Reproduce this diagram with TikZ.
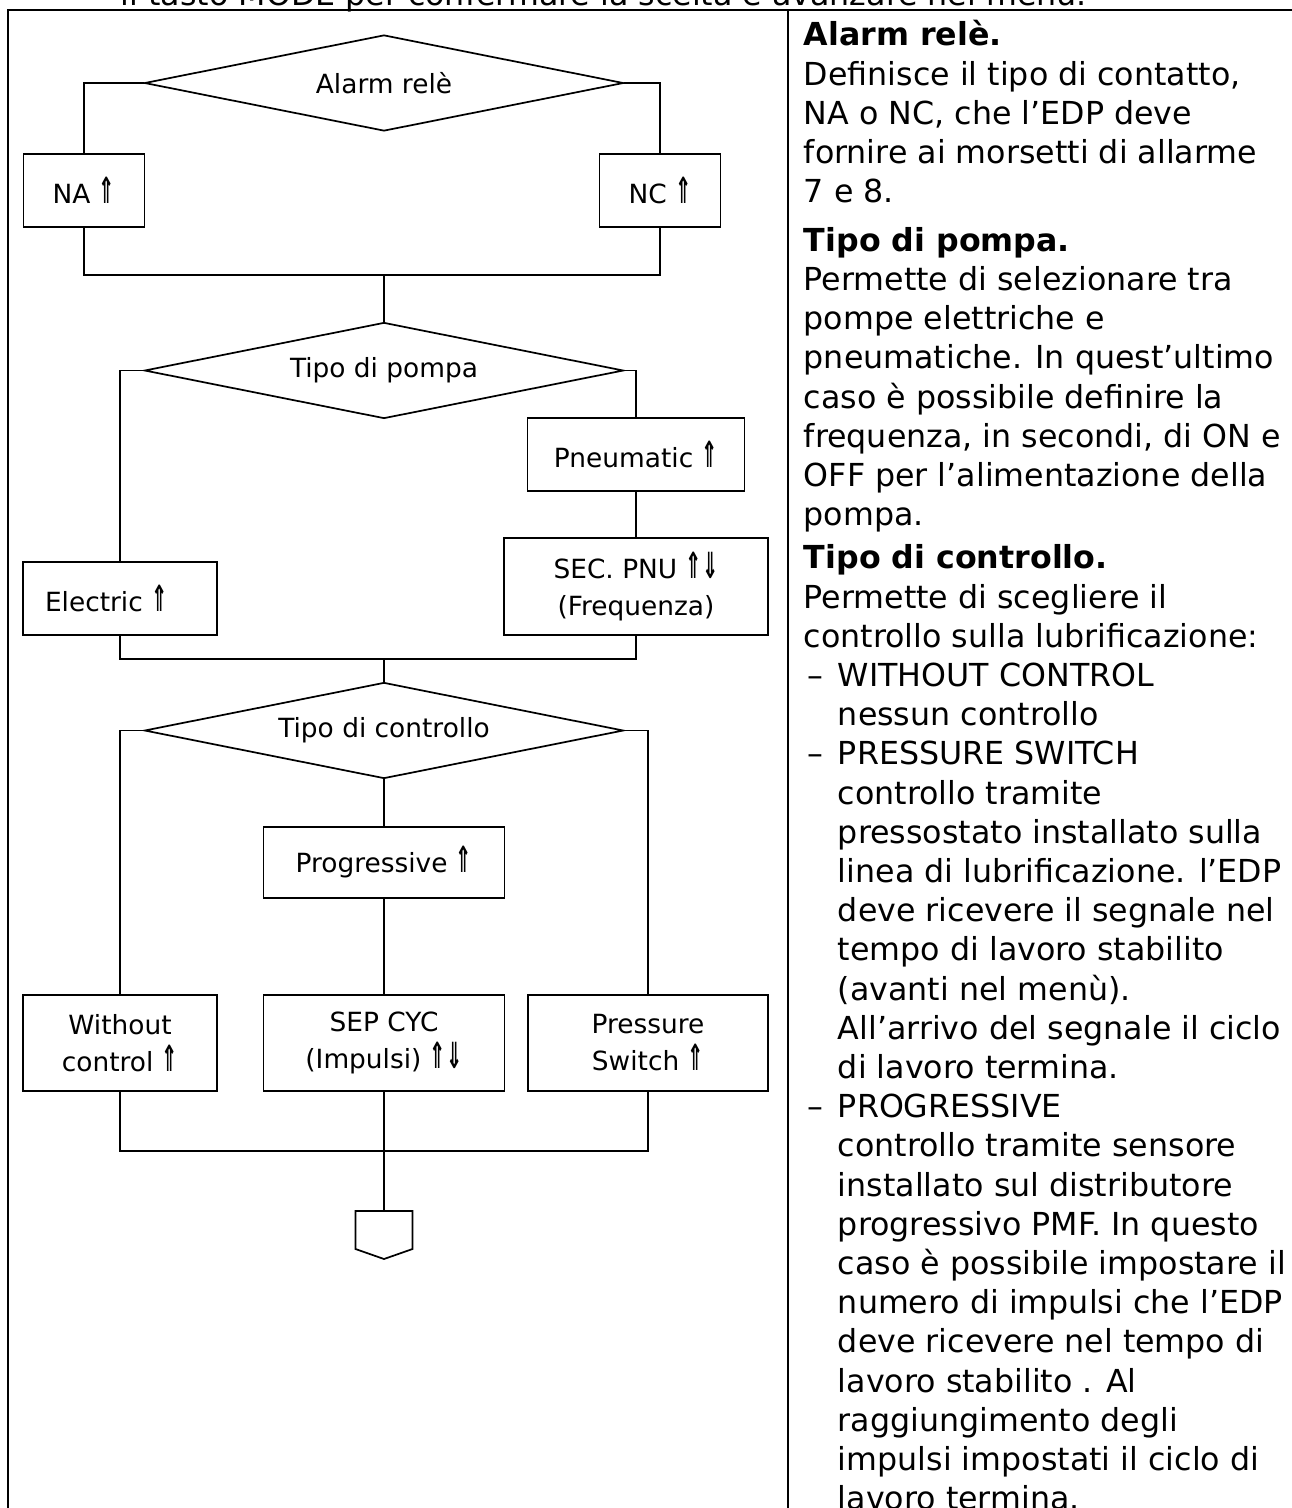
\documentclass[tikz,border=0pt]{standalone}
\usepackage{graphicx}
\usepackage{fontspec}
\setmainfont{DejaVu Sans}
\usetikzlibrary{shapes.geometric, positioning}
\newlength\pxl
\setlength\pxl{0.3788pt}
\newcommand\flowfont{\fontsize{10}{14}\selectfont}
\newcommand\notefont{\fontsize{12}{14.85}\selectfont}
\newcommand\upkey{\raisebox{\depth}{\resizebox*{6.2pt}{10pt}{\textbf{⇑}}}}
\newcommand\downkey{\raisebox{\depth}{\resizebox*{6.2pt}{10pt}{\textbf{⇓}}}}
\newcommand\itemdash{\makebox[12.9pt][l]{\hspace{1.5pt}–}}
\newcommand\itemind{\hspace*{12.9pt}}
\tikzset{
  decision/.style={draw, diamond, aspect=5, inner sep=0pt, minimum width=479*\pxl, minimum height=96*\pxl, font=\flowfont},
  choice/.style={draw, rectangle, inner sep=0pt, align=center, font=\flowfont},
  note/.style={anchor=north west, inner sep=0pt, align=left, font=\notefont},
  frame/.style={line width=0.95pt}
}

\begin{document}
\begin{tikzpicture}[x=0.3788pt, y=-0.3788pt, line width=0.65pt]

\clip (0,0) rectangle (1292,1508);

% Frame
\draw[frame] (8,1508) -- (8,10) -- (1292,10);
\draw[frame] (788,10) -- (788,1508);

\node[anchor=base west, inner sep=0pt, font=\notefont] (hint) at (120,5) {il tasto MODE per confermare la scelta e avanzare nel menu.};

% Alarm rele
\node[decision] (alarm) at (384,83) {Alarm relè};
\node[choice, minimum width=121*\pxl, minimum height=73*\pxl] (na) at (84,190.5) {NA \upkey};
\node[choice, minimum width=121*\pxl, minimum height=73*\pxl] (nc) at (660,190.5) {NC \upkey};
\coordinate (alarmjoin) at (384,275);

\draw (alarm.west) -| (na.north);
\draw (alarm.east) -| (nc.north);
\draw (na.south) |- (alarmjoin) -| (nc.south);

% Tipo di pompa
\node[decision] (pump) at (384,370.5) {Tipo di pompa};
\node[choice, minimum height=73*\pxl, text width=150*\pxl, inner xsep=22*\pxl, align=left] (electric) at (120,598.5) {Electric \upkey};
\node[choice, minimum width=217*\pxl, minimum height=73*\pxl] (pneu) at (636,454.5) {Pneumatic \upkey};
\node[choice, minimum width=264*\pxl, minimum height=97*\pxl] (secpnu) at (636,586.5) {SEC. PNU \upkey\downkey\\(Frequenza)};
\coordinate (pumpjoin) at (384,659);

\draw (alarmjoin) -- (pump.north);
\draw (pump.west) -| (electric.north);
\draw (pump.east) -| (pneu.north);
\draw (pneu.south) -- (secpnu.north);
\draw (electric.south) |- (pumpjoin) -| (secpnu.south);

% Tipo di controllo
\node[decision] (control) at (384,730.5) {Tipo di controllo};
\node[choice, minimum width=241*\pxl, minimum height=71*\pxl] (progressive) at (384,862.5) {Progressive \upkey};
\node[choice, minimum width=194*\pxl, minimum height=96*\pxl] (without) at (120,1043) {Without\\control \upkey};
\node[choice, minimum width=241*\pxl, minimum height=96*\pxl] (sepcyc) at (384,1043) {SEP CYC\\(Impulsi) \upkey\downkey};
\node[choice, minimum width=240*\pxl, minimum height=96*\pxl] (pressure) at (648,1043) {Pressure\\Switch \upkey};
\coordinate (controljoin) at (384,1151);
\coordinate (exit) at (384,1211);

\draw (pumpjoin) -- (control.north);
\draw (control.west) -| (without.north);
\draw (control.east) -| (pressure.north);
\draw (control.south) -- (progressive.north);
\draw (progressive.south) -- (sepcyc.north);
\draw (without.south) |- (controljoin) -| (pressure.south);
\draw (sepcyc.south) -- (controljoin) -- (exit);

% Off-page connector
\draw (exit) -| ++(28.5,38) -- ++(-28.5,10) -- ++(-28.5,-10) |- cycle;

% Notes
\node[note] (notealarm) at (803,17.5) {\strut\textbf{Alarm relè.}\\
Definisce il tipo di contatto,\\
NA o NC, che l’EDP deve\\
fornire ai morsetti di allarme\\
7 e 8.};

\node[note] (notepump) at (803,223) {\strut\textbf{Tipo di pompa.}\\
Permette di selezionare tra\\
pompe elettriche e\\
pneumatiche. In quest’ultimo\\
caso è possibile definire la\\
frequenza, in secondi, di ON e\\
OFF per l’alimentazione della\\
pompa.};

\node[note] (notecontrol) at (803,540.5) {\strut\textbf{Tipo di controllo.}\\
Permette di scegliere il\\
controllo sulla lubrificazione:\\
\itemdash WITHOUT CONTROL\\
\itemind nessun controllo\\
\itemdash PRESSURE SWITCH\\
\itemind controllo tramite\\
\itemind pressostato installato sulla\\
\itemind linea di lubrificazione. l’EDP\\
\itemind deve ricevere il segnale nel\\
\itemind tempo di lavoro stabilito\\
\itemind (avanti nel menù).\\
\itemind All’arrivo del segnale il ciclo\\
\itemind di lavoro termina.\\
\itemdash PROGRESSIVE\\
\itemind controllo tramite sensore\\
\itemind installato sul distributore\\
\itemind progressivo PMF. In questo\\
\itemind caso è possibile impostare il\\
\itemind numero di impulsi che l’EDP\\
\itemind deve ricevere nel tempo di\\
\itemind lavoro stabilito . Al\\
\itemind raggiungimento degli\\
\itemind impulsi impostati il ciclo di\\
\itemind lavoro termina.};

\end{tikzpicture}
\end{document}
